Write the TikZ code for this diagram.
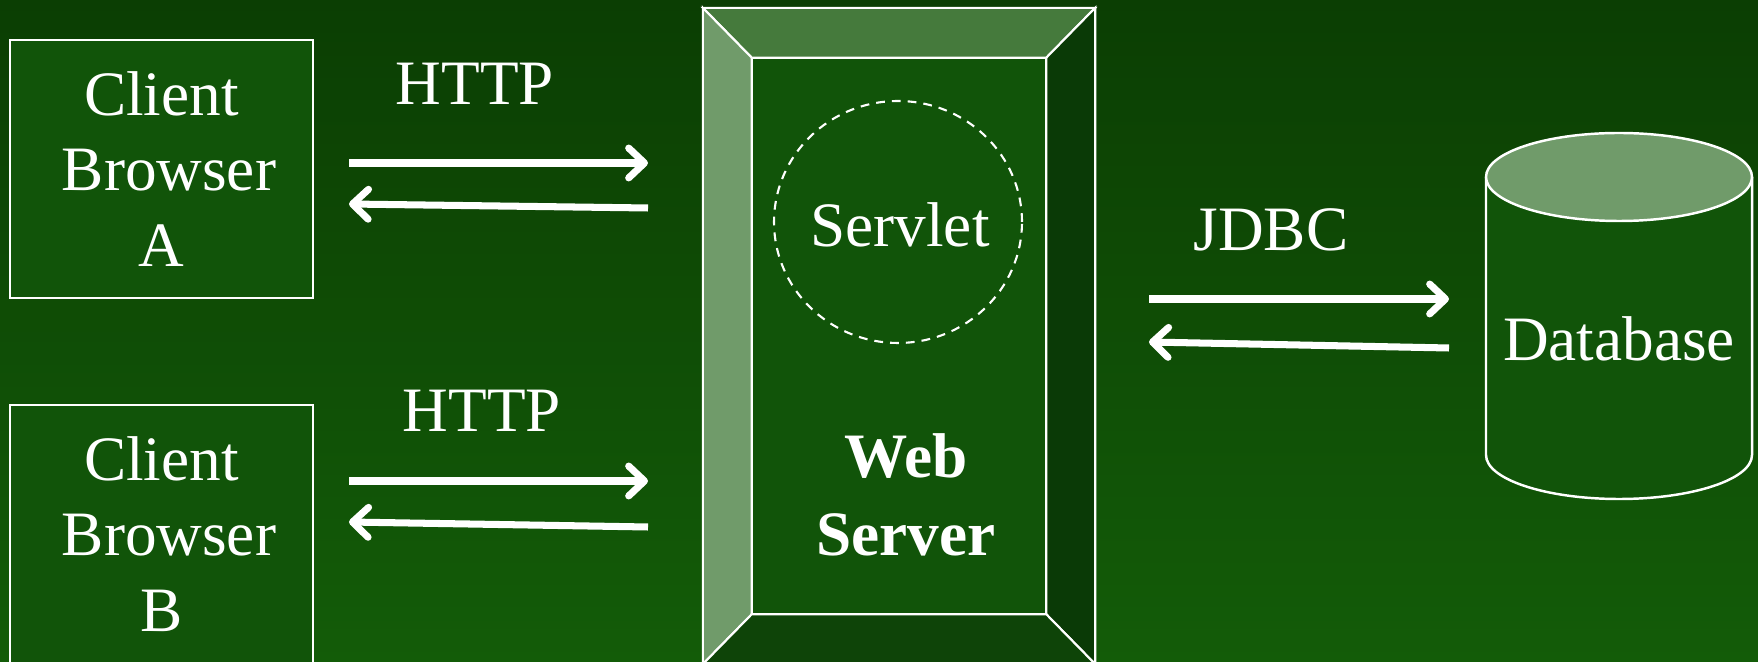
\documentclass[tikz,border=0pt]{standalone}
\usepackage{fontspec}
\setmainfont{Liberation Serif}
\usetikzlibrary{arrows.meta, shapes.geometric}

\definecolor{bgtop}{RGB}{11,62,3}
\definecolor{bgbot}{RGB}{19,92,8}
\definecolor{panel}{RGB}{17,84,9}
\definecolor{bevellight}{RGB}{112,155,106}
\definecolor{beveltop}{RGB}{69,122,60}
\definecolor{bevelright}{RGB}{10,58,6}
\definecolor{bevelbottom}{RGB}{14,68,8}

\begin{document}
\begin{tikzpicture}[
	x=0.02cm, y=0.02cm,
	every node/.style={text=white, font=\fontsize{36}{43}\selectfont, inner sep=0pt},
	browser/.style={rectangle, draw=white, line width=1.4pt, fill=panel, minimum width=6.06cm, minimum height=5.16cm, align=center},
	bevel/.style={draw=white, line width=1.2pt},
	arrow/.style={-{Straight Barb[round, length=9pt, width=17pt]}, draw=white, line width=4pt},
	label/.style={align=center}
	]
	
	% Background
	\useasboundingbox (0,0) rectangle (1758,662);
	\clip (0,0) rectangle (1758,662);
	\shade[top color=bgtop, bottom color=bgbot] (0,0) rectangle (1758,662);
	
	% Browsers
	\node[browser] (browserA) at (161.5,493) {Client\\\hspace*{0.3cm}Browser\\A};
	\node[browser] (browserB) at (161.5,128) {Client\\\hspace*{0.3cm}Browser\\B};
	
	% Web server
	\node[rectangle, draw=white, line width=1.4pt, minimum width=7.8cm, minimum height=13.08cm] (server) at (899,326) {};
	\node[rectangle, minimum width=5.88cm, minimum height=11.12cm] (serverin) at (899,326) {};
	\filldraw[bevel, fill=beveltop] (server.north west) -- (server.north east) -- (serverin.north east) -- (serverin.north west) -- cycle;
	\filldraw[bevel, fill=bevellight] (server.north west) -- (serverin.north west) -- (serverin.south west) -- (server.south west) -- cycle;
	\filldraw[bevel, fill=bevelright] (server.north east) -- (serverin.north east) -- (serverin.south east) -- (server.south east) -- cycle;
	\filldraw[bevel, fill=bevelbottom] (server.south west) -- (serverin.south west) -- (serverin.south east) -- (server.south east) -- cycle;
	\draw[bevel, fill=panel] (serverin.south west) rectangle (serverin.north east);
	\node[ellipse, draw=white, line width=1.2pt, dash pattern=on 5pt off 4pt, minimum width=4.96cm, minimum height=4.84cm] (servlet) at (898,440) {};
	\node (servletlbl) at (900,437) {Servlet};
	\node[label, font=\fontsize{36}{44}\selectfont\bfseries] (webserver) at (906,167) {Web\\Server};
	
	% Database
	\draw[white, line width=1.4pt, fill=panel] (1486,485) -- (1486,207) arc[start angle=180, end angle=360, x radius=133, y radius=44] -- (1752,485);
	\draw[white, line width=1.4pt, fill=bevellight] (1619,485) ellipse[x radius=133, y radius=44];
	\node (database) at (1619,323) {Database};
	
	% Labels
	\node (httpA) at (475,578) {HTTP};
	\node (httpB) at (482,251) {HTTP};
	\node (jdbc) at (1271,432) {JDBC};
	
	% Arrow ends
	\coordinate (reqA1) at (349,499);
	\coordinate (reqA2) at (648,499);
	\coordinate (resA1) at (648,454);
	\coordinate (resA2) at (349,458);
	\coordinate (reqB1) at (349,181);
	\coordinate (reqB2) at (648,181);
	\coordinate (resB1) at (648,135);
	\coordinate (resB2) at (349,140);
	\coordinate (qry1) at (1149,363);
	\coordinate (qry2) at (1449,363);
	\coordinate (ans1) at (1449,314);
	\coordinate (ans2) at (1149,320);
	
	% Arrows
	\draw[arrow] (reqA1) -- (reqA2);
	\draw[arrow] (resA1) -- (resA2);
	\draw[arrow] (reqB1) -- (reqB2);
	\draw[arrow] (resB1) -- (resB2);
	\draw[arrow] (qry1) -- (qry2);
	\draw[arrow] (ans1) -- (ans2);
	
\end{tikzpicture}
\end{document}
